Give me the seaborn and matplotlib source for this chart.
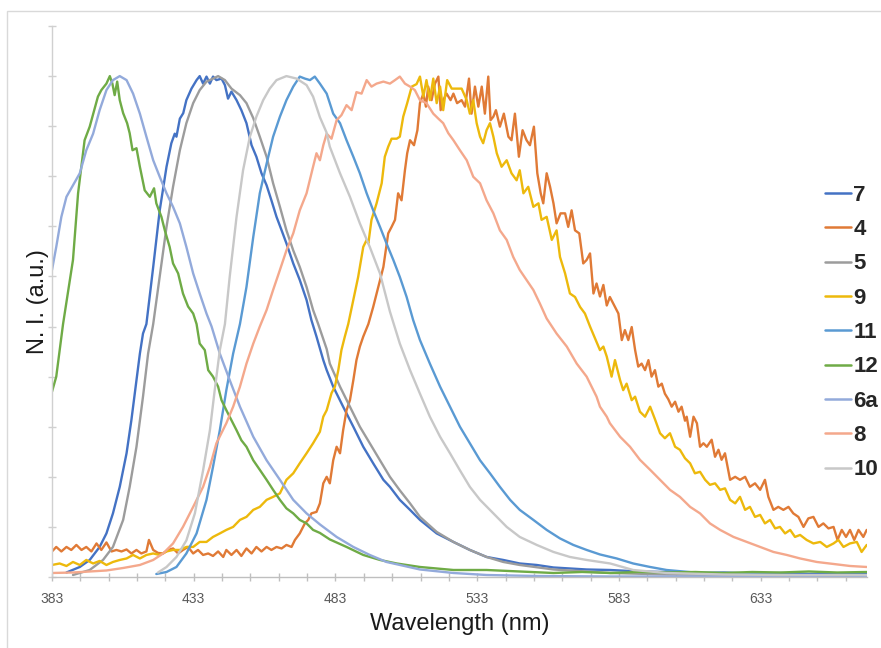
import matplotlib
matplotlib.use("Agg")
import matplotlib.pyplot as plt
import matplotlib.patches as mpatches
from matplotlib.ticker import MultipleLocator, FixedLocator, NullFormatter
import seaborn as sns
import pandas as pd

# ---------------- data ----------------
series_names = ["7", "4", "5", "9", "11", "12", "6a", "8", "10"]

wl_7 = [388.1, 392.8, 396.3, 399.8, 402.2, 404.5, 406.9, 409.3, 411.0, 412.8, 414.0, 415.1, 416.3, 418.7,
        421.0, 423.4, 425.1, 426.3, 426.9, 428.1, 429.3, 430.4, 432.2, 434.0, 435.1, 436.3, 437.5, 438.7,
        439.8, 441.0, 442.8, 444.0, 445.1, 446.3, 448.1, 449.8, 451.6, 453.4, 455.1, 456.9, 458.7, 460.4,
        462.2, 464.0, 465.7, 468.1, 470.4, 472.8, 474.5, 476.3, 478.7, 479.9, 482.2, 485.7, 489.3, 492.8,
        496.3, 499.9, 502.2, 505.7, 509.3, 512.8, 518.7, 524.6, 530.4, 536.3, 542.2, 548.0, 554.0, 559.9,
        571.6, 579.9, 590.0, 600.0, 610.0, 620.0, 630.0, 640.0, 650.0, 660.0, 670.4]
ni_7 = [0.009, 0.020, 0.034, 0.060, 0.087, 0.127, 0.180, 0.247, 0.313, 0.393, 0.446, 0.486, 0.505, 0.619,
        0.732, 0.819, 0.866, 0.885, 0.879, 0.915, 0.926, 0.952, 0.975, 0.992, 1.000, 0.985, 0.999, 0.985,
        0.999, 0.992, 0.995, 0.982, 0.955, 0.969, 0.952, 0.932, 0.906, 0.862, 0.839, 0.806, 0.782, 0.752,
        0.719, 0.692, 0.666, 0.626, 0.593, 0.553, 0.513, 0.480, 0.433, 0.413, 0.380, 0.340, 0.300, 0.260,
        0.227, 0.194, 0.180, 0.154, 0.134, 0.114, 0.087, 0.070, 0.054, 0.040, 0.034, 0.027, 0.024, 0.019,
        0.015, 0.014, 0.011, 0.010, 0.008, 0.009, 0.007, 0.008, 0.006, 0.007, 0.006]

wl_4 = [383.0, 384.5, 386.3, 388.1, 389.8, 391.6, 393.4, 395.1, 396.9, 398.7, 400.4, 402.2, 404.0, 405.7,
        407.5, 409.3, 411.0, 412.8, 414.5, 416.3, 417.2, 418.7, 420.4, 422.2, 424.0, 425.7, 427.5, 429.2,
        431.0, 432.8, 434.5, 436.3, 438.1, 439.8, 441.6, 443.4, 444.5, 446.3, 448.1, 449.8, 451.6, 453.4,
        455.1, 456.9, 458.7, 460.4, 462.2, 464.0, 465.7, 467.5, 468.7, 470.4, 472.2, 473.4, 474.5, 476.3,
        477.5, 478.7, 479.9, 481.0, 482.2, 483.4, 484.6, 485.7, 486.9, 488.1, 489.3, 490.4, 491.6, 492.8,
        494.6, 496.3, 498.1, 499.9, 501.6, 502.8, 504.0, 505.1, 506.3, 507.5, 508.3, 509.3, 510.7, 511.9,
        512.8, 514.0, 514.9, 515.7, 516.9, 518.1, 519.3, 520.1, 521.0, 522.2, 523.6, 524.6, 525.9, 527.5,
        528.7, 530.1, 531.0, 532.2, 533.4, 534.6, 535.7, 536.9, 537.7, 538.7, 539.6, 541.0, 542.4, 544.0,
        545.1, 546.3, 547.7, 549.0, 550.4, 551.6, 553.0, 554.2, 555.4, 556.3, 557.5, 558.7, 559.9, 561.0,
        562.4, 564.0, 565.1, 566.3, 567.5, 569.0, 570.4, 571.6, 572.8, 574.0, 575.1, 576.3, 577.5, 578.7,
        579.8, 581.6, 582.8, 584.0, 585.1, 586.3, 587.5, 588.7, 589.8, 591.0, 592.2, 593.4, 594.5, 595.7,
        596.9, 598.1, 599.2, 600.4, 601.6, 602.8, 604.0, 605.1, 606.3, 606.9, 608.1, 609.3, 610.5, 611.6,
        612.8, 614.0, 615.7, 616.9, 618.1, 619.2, 620.4, 622.2, 624.0, 625.7, 627.5, 629.2, 631.0, 632.8,
        634.5, 635.7, 637.5, 639.2, 641.0, 642.8, 644.5, 646.3, 648.1, 649.8, 651.6, 653.4, 655.1, 656.9,
        658.7, 660.1, 661.6, 663.1, 664.5, 666.0, 667.5, 669.2, 670.4]
ni_4 = [0.051, 0.060, 0.051, 0.060, 0.054, 0.064, 0.054, 0.060, 0.051, 0.067, 0.054, 0.069, 0.051, 0.054,
        0.051, 0.055, 0.047, 0.054, 0.047, 0.051, 0.074, 0.054, 0.048, 0.047, 0.054, 0.057, 0.047, 0.054,
        0.060, 0.047, 0.054, 0.044, 0.047, 0.042, 0.051, 0.040, 0.054, 0.044, 0.054, 0.042, 0.057, 0.047,
        0.060, 0.051, 0.060, 0.054, 0.060, 0.057, 0.064, 0.060, 0.074, 0.087, 0.107, 0.114, 0.127, 0.130,
        0.147, 0.187, 0.200, 0.187, 0.233, 0.260, 0.247, 0.293, 0.333, 0.353, 0.393, 0.433, 0.460, 0.480,
        0.505, 0.539, 0.579, 0.619, 0.686, 0.699, 0.713, 0.766, 0.752, 0.812, 0.846, 0.872, 0.862, 0.892,
        0.946, 0.965, 0.939, 0.979, 0.952, 0.985, 0.999, 0.932, 0.952, 0.965, 0.952, 0.965, 0.946, 0.952,
        0.939, 0.995, 0.925, 0.979, 0.939, 0.979, 0.925, 0.999, 0.912, 0.919, 0.932, 0.899, 0.925, 0.879,
        0.872, 0.925, 0.839, 0.892, 0.872, 0.862, 0.899, 0.806, 0.766, 0.746, 0.806, 0.779, 0.746, 0.706,
        0.726, 0.726, 0.699, 0.732, 0.692, 0.686, 0.626, 0.633, 0.646, 0.566, 0.586, 0.560, 0.583, 0.542,
        0.559, 0.539, 0.526, 0.473, 0.493, 0.473, 0.499, 0.453, 0.420, 0.426, 0.413, 0.433, 0.400, 0.413,
        0.380, 0.386, 0.366, 0.355, 0.340, 0.350, 0.330, 0.340, 0.312, 0.320, 0.280, 0.320, 0.307, 0.260,
        0.267, 0.260, 0.274, 0.240, 0.254, 0.234, 0.247, 0.194, 0.200, 0.194, 0.200, 0.180, 0.187, 0.174,
        0.194, 0.160, 0.134, 0.140, 0.134, 0.140, 0.127, 0.120, 0.100, 0.117, 0.120, 0.100, 0.107, 0.097,
        0.100, 0.074, 0.094, 0.080, 0.094, 0.074, 0.094, 0.080, 0.094]

wl_5 = [390.4, 396.3, 401.0, 404.5, 408.1, 410.4, 412.8, 415.1, 416.9, 418.7, 421.0, 423.4, 425.7, 428.1,
        430.4, 432.8, 435.1, 437.5, 439.8, 441.6, 444.0, 446.3, 449.3, 451.6, 454.0, 456.3, 458.7, 461.0,
        463.4, 465.7, 468.1, 470.4, 472.8, 475.1, 476.9, 479.9, 481.0, 484.6, 488.1, 491.6, 495.1, 498.7,
        502.2, 505.7, 509.3, 512.8, 518.7, 524.6, 530.4, 536.3, 542.2, 548.0, 559.9, 579.9, 600.0, 620.0,
        640.0, 670.4]
ni_5 = [0.004, 0.014, 0.034, 0.060, 0.114, 0.180, 0.260, 0.360, 0.446, 0.505, 0.600, 0.699, 0.779, 0.852,
        0.906, 0.946, 0.972, 0.989, 0.995, 1.000, 0.992, 0.975, 0.962, 0.946, 0.916, 0.879, 0.839, 0.786,
        0.739, 0.692, 0.652, 0.619, 0.579, 0.533, 0.505, 0.455, 0.426, 0.380, 0.340, 0.300, 0.267, 0.233,
        0.200, 0.173, 0.147, 0.120, 0.090, 0.070, 0.054, 0.040, 0.030, 0.024, 0.015, 0.008, 0.005, 0.004,
        0.004, 0.003]

wl_9 = [383.0, 385.7, 388.1, 390.4, 392.8, 395.1, 397.5, 399.8, 402.2, 404.5, 406.9, 409.3, 411.6, 414.0,
        416.3, 418.7, 421.0, 423.4, 425.7, 428.1, 430.4, 432.8, 435.1, 437.5, 439.8, 442.2, 444.5, 446.9,
        449.3, 451.6, 454.0, 456.3, 458.7, 461.0, 463.4, 465.7, 468.1, 470.4, 472.8, 475.1, 477.5, 478.7,
        479.9, 481.6, 482.8, 484.0, 485.1, 486.3, 487.5, 489.3, 491.0, 492.8, 494.0, 494.6, 495.7, 497.5,
        499.3, 500.4, 501.6, 502.8, 504.6, 505.7, 506.9, 508.3, 509.9, 511.6, 512.8, 514.0, 515.1, 516.3,
        517.5, 518.7, 519.9, 521.0, 522.4, 524.0, 525.7, 527.5, 529.3, 530.4, 531.6, 532.8, 534.0, 535.1,
        536.3, 537.5, 538.7, 539.9, 541.6, 543.4, 545.1, 546.9, 548.0, 549.3, 551.0, 552.8, 554.6, 555.7,
        557.5, 559.3, 561.0, 562.2, 564.0, 565.7, 567.5, 569.3, 571.0, 572.8, 576.3, 577.5, 578.7, 580.4,
        581.6, 583.4, 584.5, 585.7, 587.5, 588.7, 590.4, 592.2, 594.0, 595.7, 597.5, 599.2, 601.0, 602.8,
        604.5, 606.3, 608.1, 609.8, 611.6, 613.4, 615.1, 616.9, 618.7, 620.4, 622.2, 624.0, 625.7, 627.5,
        629.2, 631.0, 632.8, 634.5, 636.3, 638.1, 639.8, 641.6, 643.4, 645.1, 646.9, 649.2, 651.6, 654.0,
        656.3, 658.7, 660.4, 662.2, 664.5, 666.9, 668.6, 670.4]
ni_9 = [0.024, 0.027, 0.022, 0.030, 0.024, 0.034, 0.027, 0.032, 0.024, 0.030, 0.034, 0.037, 0.044, 0.037,
        0.044, 0.047, 0.044, 0.051, 0.054, 0.054, 0.060, 0.060, 0.070, 0.070, 0.080, 0.087, 0.094, 0.100,
        0.114, 0.120, 0.134, 0.140, 0.154, 0.160, 0.167, 0.194, 0.207, 0.227, 0.247, 0.267, 0.290, 0.320,
        0.333, 0.367, 0.380, 0.413, 0.453, 0.480, 0.505, 0.553, 0.599, 0.659, 0.673, 0.666, 0.713, 0.746,
        0.786, 0.839, 0.859, 0.875, 0.875, 0.879, 0.919, 0.946, 0.979, 0.984, 0.999, 0.959, 0.992, 0.952,
        0.995, 0.946, 0.979, 0.932, 0.992, 0.975, 0.975, 0.975, 0.952, 0.925, 0.952, 0.906, 0.879, 0.866,
        0.892, 0.906, 0.879, 0.846, 0.819, 0.832, 0.806, 0.792, 0.812, 0.766, 0.779, 0.739, 0.746, 0.713,
        0.719, 0.673, 0.692, 0.639, 0.606, 0.566, 0.559, 0.539, 0.526, 0.500, 0.453, 0.460, 0.440, 0.400,
        0.433, 0.393, 0.373, 0.386, 0.353, 0.360, 0.330, 0.320, 0.340, 0.315, 0.287, 0.277, 0.287, 0.260,
        0.254, 0.237, 0.227, 0.207, 0.210, 0.194, 0.184, 0.187, 0.174, 0.177, 0.154, 0.147, 0.160, 0.134,
        0.140, 0.120, 0.124, 0.107, 0.114, 0.097, 0.100, 0.087, 0.094, 0.080, 0.084, 0.074, 0.067, 0.070,
        0.060, 0.067, 0.074, 0.060, 0.067, 0.070, 0.050, 0.064]

wl_11 = [419.8, 423.4, 426.9, 430.4, 434.0, 437.5, 439.8, 442.2, 444.5, 446.9, 449.3, 451.6, 454.0, 456.3,
         458.7, 461.0, 463.4, 465.7, 468.1, 470.4, 472.2, 474.0, 475.7, 477.5, 479.9, 482.2, 484.6, 486.9,
         489.3, 491.6, 494.0, 496.3, 498.7, 501.0, 503.4, 505.7, 508.1, 510.4, 512.8, 516.3, 519.9, 523.4,
         526.9, 530.4, 534.0, 537.5, 541.0, 544.6, 548.0, 552.8, 557.5, 562.2, 566.9, 571.6, 576.3, 582.2,
         588.0, 594.0, 599.8, 611.6, 623.4, 640.0, 670.4]
ni_11 = [0.006, 0.010, 0.020, 0.047, 0.087, 0.154, 0.220, 0.293, 0.373, 0.446, 0.505, 0.579, 0.679, 0.766,
         0.825, 0.879, 0.919, 0.952, 0.979, 0.999, 0.995, 0.992, 0.999, 0.985, 0.965, 0.925, 0.906, 0.872,
         0.839, 0.806, 0.766, 0.732, 0.699, 0.666, 0.633, 0.599, 0.559, 0.513, 0.473, 0.426, 0.380, 0.340,
         0.300, 0.267, 0.233, 0.207, 0.180, 0.154, 0.134, 0.114, 0.094, 0.077, 0.064, 0.054, 0.045, 0.037,
         0.027, 0.020, 0.014, 0.008, 0.006, 0.004, 0.003]

wl_12 = [383.0, 384.5, 386.9, 390.4, 392.2, 394.5, 396.3, 399.2, 400.4, 402.2, 403.4, 404.3, 405.1, 406.0,
         406.9, 408.1, 409.5, 410.4, 411.4, 412.8, 414.0, 415.7, 417.5, 419.0, 419.8, 421.6, 422.8, 424.5,
         425.7, 427.5, 429.2, 431.0, 432.8, 434.0, 435.1, 436.9, 438.1, 439.8, 441.6, 442.8, 444.5, 446.3,
         448.1, 449.8, 451.6, 454.0, 456.3, 458.7, 461.0, 463.4, 465.7, 468.1, 470.4, 472.8, 475.1, 477.5,
         481.0, 486.9, 492.8, 498.7, 504.6, 512.8, 524.6, 536.3, 548.0, 559.9, 570.0, 580.0, 590.0, 600.0,
         610.0, 620.0, 630.0, 640.0, 650.0, 660.0, 670.4]
ni_12 = [0.370, 0.400, 0.505, 0.633, 0.766, 0.872, 0.899, 0.959, 0.972, 0.985, 1.000, 0.985, 0.962, 0.989,
         0.952, 0.926, 0.906, 0.886, 0.852, 0.856, 0.819, 0.772, 0.759, 0.776, 0.746, 0.719, 0.692, 0.659,
         0.626, 0.606, 0.566, 0.540, 0.526, 0.505, 0.466, 0.453, 0.413, 0.400, 0.380, 0.353, 0.333, 0.313,
         0.293, 0.273, 0.260, 0.233, 0.214, 0.194, 0.174, 0.154, 0.137, 0.127, 0.114, 0.107, 0.094, 0.088,
         0.075, 0.060, 0.044, 0.034, 0.027, 0.020, 0.014, 0.014, 0.011, 0.008, 0.010, 0.008, 0.010, 0.009,
         0.010, 0.008, 0.010, 0.009, 0.011, 0.009, 0.010]

wl_6a = [383.0, 384.5, 386.3, 388.1, 390.4, 392.8, 395.1, 397.5, 399.8, 402.2, 404.5, 406.9, 409.3, 411.6,
         414.0, 416.3, 418.7, 421.0, 423.4, 425.7, 428.1, 430.4, 432.8, 435.1, 437.5, 439.3, 442.2, 445.7,
         449.3, 454.0, 458.7, 463.4, 468.1, 472.8, 477.5, 483.4, 489.3, 495.1, 501.0, 512.8, 524.6, 536.3,
         554.0, 580.0, 620.0, 670.4]
ni_6a = [0.613, 0.659, 0.719, 0.759, 0.782, 0.806, 0.852, 0.885, 0.932, 0.972, 0.992, 1.000, 0.992, 0.965,
         0.925, 0.879, 0.832, 0.799, 0.766, 0.739, 0.706, 0.659, 0.606, 0.566, 0.526, 0.500, 0.446, 0.393,
         0.340, 0.280, 0.233, 0.194, 0.154, 0.127, 0.105, 0.080, 0.060, 0.044, 0.030, 0.015, 0.008, 0.004,
         0.002, 0.001, 0.001, 0.001]

wl_8 = [383.0, 390.4, 396.3, 402.2, 408.1, 414.0, 418.7, 422.2, 425.7, 429.2, 432.8, 436.3, 438.7, 441.0,
        444.5, 446.9, 449.3, 451.6, 454.0, 456.3, 458.7, 461.0, 463.4, 465.7, 468.1, 470.4, 472.8, 475.1,
        476.3, 477.5, 478.7, 479.9, 481.6, 483.4, 485.1, 486.9, 488.7, 490.4, 492.2, 494.0, 495.7, 497.5,
        499.9, 502.2, 504.0, 505.7, 507.5, 509.3, 511.0, 512.8, 515.1, 517.5, 519.3, 521.0, 522.8, 524.6,
        526.9, 529.3, 531.6, 534.0, 536.3, 538.7, 541.0, 543.4, 545.7, 548.0, 550.4, 552.8, 555.1, 557.5,
        561.0, 564.6, 568.1, 571.6, 575.1, 576.3, 578.7, 579.8, 583.4, 586.9, 590.4, 594.0, 597.5, 601.0,
        604.5, 608.1, 611.6, 615.1, 618.7, 623.4, 628.1, 632.8, 637.5, 642.2, 646.9, 652.8, 658.7, 664.5,
        670.4]
ni_8 = [0.008, 0.009, 0.011, 0.013, 0.018, 0.024, 0.034, 0.047, 0.067, 0.100, 0.140, 0.180, 0.220, 0.267,
        0.307, 0.340, 0.380, 0.426, 0.466, 0.500, 0.533, 0.573, 0.613, 0.652, 0.686, 0.732, 0.766, 0.819,
        0.846, 0.832, 0.862, 0.885, 0.875, 0.912, 0.922, 0.942, 0.932, 0.968, 0.965, 0.992, 0.979, 0.985,
        0.989, 0.985, 0.992, 0.999, 0.985, 0.979, 0.972, 0.952, 0.946, 0.925, 0.915, 0.906, 0.886, 0.872,
        0.852, 0.832, 0.799, 0.786, 0.752, 0.726, 0.692, 0.673, 0.639, 0.613, 0.593, 0.573, 0.546, 0.516,
        0.486, 0.460, 0.426, 0.400, 0.360, 0.340, 0.320, 0.307, 0.280, 0.260, 0.234, 0.214, 0.194, 0.174,
        0.160, 0.140, 0.127, 0.107, 0.094, 0.080, 0.070, 0.060, 0.050, 0.044, 0.037, 0.030, 0.026, 0.022,
        0.020]

wl_10 = [420.4, 423.4, 426.9, 430.4, 433.4, 436.3, 438.7, 440.4, 442.2, 444.0, 445.7, 448.1, 450.4, 452.8,
         455.1, 457.5, 459.8, 462.2, 465.7, 469.3, 472.8, 475.1, 477.5, 479.8, 481.0, 484.6, 488.1, 491.6,
         495.1, 498.7, 502.2, 505.7, 509.3, 512.8, 516.3, 519.9, 523.4, 526.9, 530.4, 534.0, 538.7, 543.4,
         548.0, 554.0, 559.9, 565.7, 571.6, 579.9, 588.0, 599.8, 620.0, 640.0, 670.4]
ni_10 = [0.009, 0.020, 0.040, 0.073, 0.127, 0.213, 0.293, 0.373, 0.453, 0.505, 0.600, 0.719, 0.812, 0.879,
         0.919, 0.952, 0.975, 0.992, 1.000, 0.995, 0.982, 0.959, 0.918, 0.888, 0.859, 0.806, 0.759, 0.706,
         0.659, 0.606, 0.530, 0.466, 0.413, 0.366, 0.320, 0.280, 0.247, 0.213, 0.180, 0.154, 0.127, 0.100,
         0.080, 0.064, 0.050, 0.040, 0.034, 0.027, 0.014, 0.008, 0.005, 0.004, 0.004]

x_tick_labels = ["383", "433", "483", "533", "583", "633"]
x_label = "Wavelength (nm)"
y_label = "N. I. (a.u.)"

series_wl = {"7": wl_7, "4": wl_4, "5": wl_5, "9": wl_9, "11": wl_11,
             "12": wl_12, "6a": wl_6a, "8": wl_8, "10": wl_10}
series_ni = {"7": ni_7, "4": ni_4, "5": ni_5, "9": ni_9, "11": ni_11,
             "12": ni_12, "6a": ni_6a, "8": ni_8, "10": ni_10}

# ---------------- styling ----------------
palette = {"7": "#4472C4", "4": "#E07A36", "5": "#9C9C9C", "9": "#EDB90C", "11": "#5A9AD3",
           "12": "#6FAB46", "6a": "#93AADB", "8": "#F4A88C", "10": "#C8C8C8"}

sns.set_theme(style="white")
plt.rcParams["font.family"] = ["Liberation Sans", "DejaVu Sans"]

rows = []
for name in series_names:
    for w, v in zip(series_wl[name], series_ni[name]):
        rows.append((name, w, v))
df = pd.DataFrame(rows, columns=["compound", "wavelength", "ni"])

W, H = 881, 648
fig = plt.figure(figsize=(W / 100, H / 100), dpi=100)
fig.patch.set_facecolor("white")
ax = fig.add_axes([52 / W, 1 - 577 / H, (867 - 52) / W, (577 - 26) / H])

sns.lineplot(data=df, x="wavelength", y="ni", hue="compound", hue_order=series_names,
             palette=palette, sort=False, estimator=None, linewidth=1.7, ax=ax)

ax.set_xlim(383, 670.5)
ax.set_ylim(0, 1.1)

# axes styling
for side in ["top", "right"]:
    ax.spines[side].set_visible(False)
ax.spines["left"].set_color("#D0D0D0")
ax.spines["bottom"].set_color("#BFBFBF")
ax.spines["left"].set_linewidth(1.0)
ax.spines["bottom"].set_linewidth(1.0)

major_pos = [383 + 50 * i for i in range(len(x_tick_labels))]
ax.xaxis.set_major_locator(FixedLocator(major_pos))
ax.set_xticklabels(x_tick_labels)
ax.xaxis.set_minor_locator(MultipleLocator(10, offset=3))
ax.yaxis.set_major_locator(MultipleLocator(0.1))
ax.yaxis.set_major_formatter(NullFormatter())
ax.tick_params(axis="x", which="both", direction="inout", length=6, width=1.0,
               color="#BFBFBF", bottom=True, labelsize=10, labelcolor="#595959", pad=8)
ax.tick_params(axis="y", which="major", direction="inout", length=6, width=1.0,
               color="#D0D0D0", left=True)

ax.set_xlabel(x_label, fontsize=17, color="#1a1a1a")
ax.set_ylabel(y_label, fontsize=17, color="#1a1a1a")
ax.xaxis.set_label_coords(0.5, -(613 - 577) / (577 - 26))
ax.yaxis.set_label_coords(-(52 - 49) / (867 - 52), 0.5)

sns.move_legend(ax, "center left", bbox_to_anchor=(825 / W, 1 - 332.5 / H),
                bbox_transform=fig.transFigure, frameon=False, title=None,
                prop={"weight": "bold", "size": 16}, handlelength=1.18, handletextpad=0.1,
                labelspacing=0.6, borderpad=0, borderaxespad=0)
for line in ax.get_legend().get_lines():
    line.set_linewidth(1.8)

# light outer chart border
fig.patches.append(mpatches.Rectangle((7 / W, -0.05), 1.1, 1 - 11 / H + 0.05,
                                      transform=fig.transFigure, fill=False,
                                      edgecolor="#D9D9D9", linewidth=1.0))

fig.savefig("out.png", dpi=100)
